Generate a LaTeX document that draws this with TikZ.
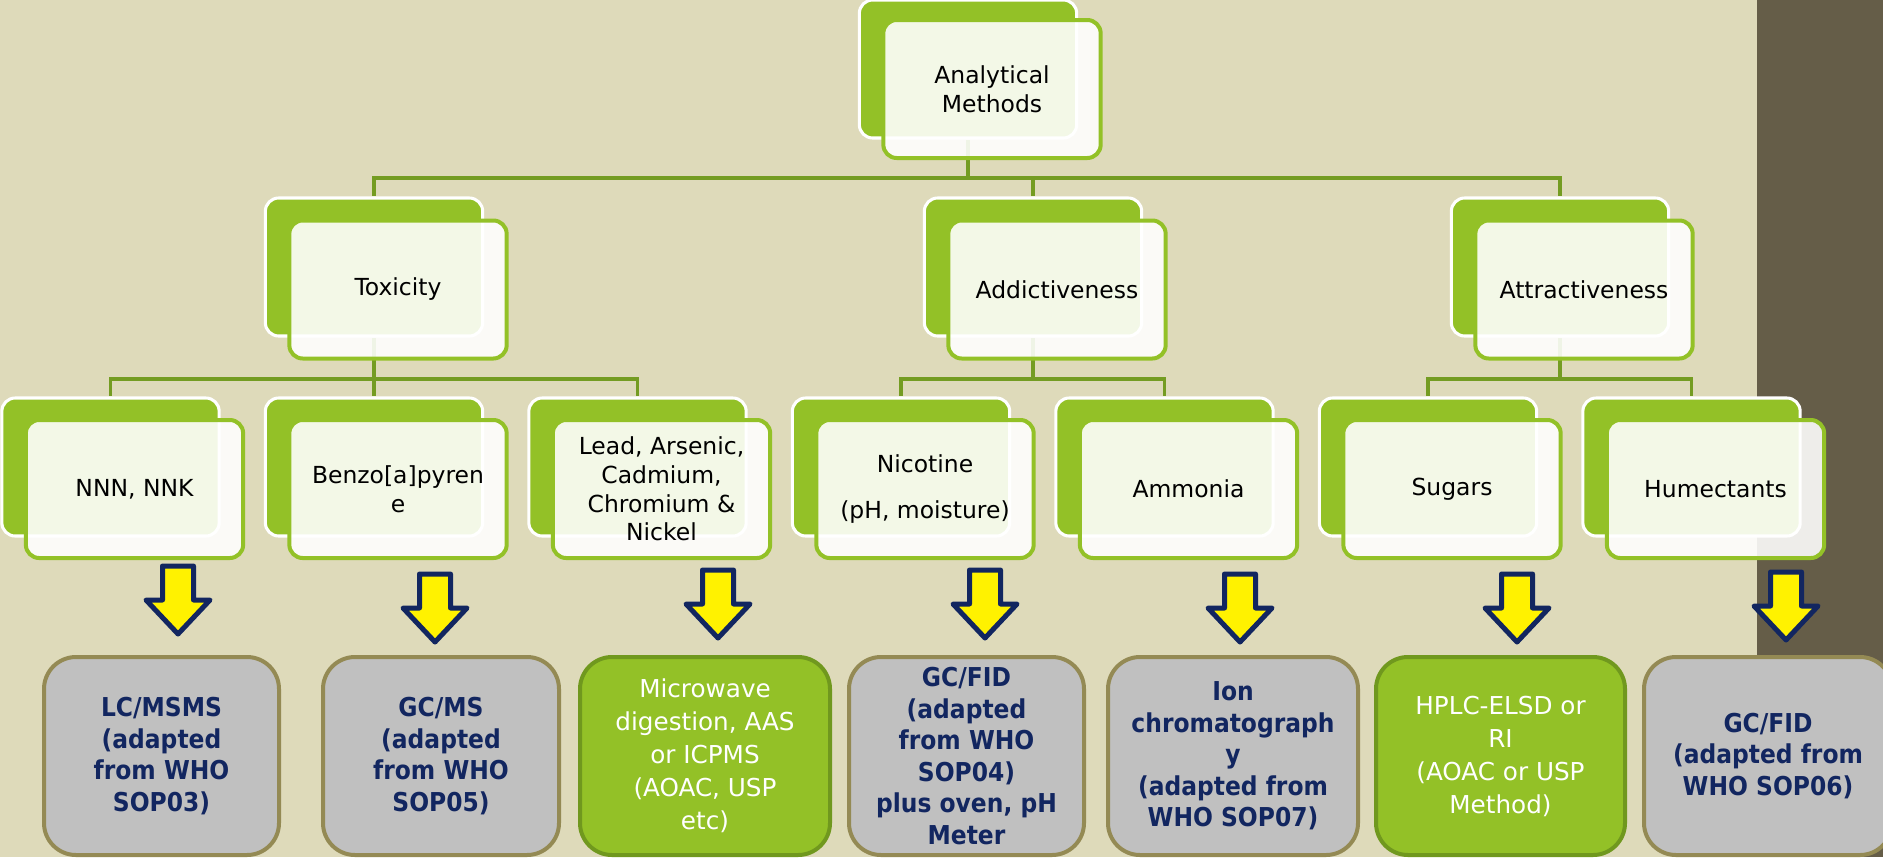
\documentclass[tikz,border=0pt]{standalone}
\usepackage{fontspec}
\setmainfont{DejaVu Sans}
\newfontfamily\condfont{DejaVu Sans}[FakeStretch=0.9]
\definecolor{paper}{RGB}{222,218,186}
\definecolor{strip}{RGB}{101,93,72}
\definecolor{leaf}{RGB}{147,193,39}
\definecolor{leafdark}{RGB}{112,152,30}
\definecolor{wire}{RGB}{116,156,34}
\definecolor{navy}{RGB}{18,38,96}
\definecolor{greybox}{RGB}{192,192,192}
\definecolor{olive}{RGB}{148,138,84}
\pgfdeclarelayer{under}
\pgfsetlayers{under,main}
\begin{document}
\begin{tikzpicture}[x=0.75pt,y=-0.75pt,
  backcard/.style={draw=white, line width=2.3pt, fill=leaf, rounded corners=10pt,
    minimum width=163pt, minimum height=103.5pt, inner sep=0pt},
  frontcard/.style={draw=leaf, line width=3pt, fill=white, fill opacity=0.89, text opacity=1,
    rounded corners=10pt, minimum width=163pt, minimum height=103.5pt, inner sep=0pt,
    align=center, text=black, font=\fontsize{17.6pt}{21.4pt}\selectfont},
  wireline/.style={draw=wire, line width=2.8pt},
  method/.style={rounded corners=24pt, line width=3pt, minimum height=148.5pt,
    inner sep=0pt, align=center},
  greymethod/.style={method, draw=olive, fill=greybox, text=navy,
    font=\condfont\bfseries\fontsize{19.5pt}{23.6pt}\selectfont},
  greenmethod/.style={method, draw=leafdark, fill=leaf, text=white,
    font=\fontsize{18.5pt}{24.75pt}\selectfont},
  arrowline/.style={draw=navy, line width=3.75pt, fill=yellow, line join=round},
  pics/blockdown/.style={code={
    \draw[arrowline] (-15.5,0) -- (15.5,0) -- (15.5,34) -- (32,34) -- (0,68)
      -- (-32,34) -- (-15.5,34) -- cycle;}},
]
% page background and dark side band
\begin{pgfonlayer}{under}
  \fill[paper] (0,0) rectangle (1883,857);
  \fill[strip] (1757,0) rectangle (1883,857);
\end{pgfonlayer}
\useasboundingbox (0,0) rectangle (1883,857);

% root
\node[backcard] (topb) at (968,69) {};
\node[frontcard] (top) at (992,89) {Analytical\\Methods};

% categories
\node[backcard] (toxb) at (374,267) {};
\node[frontcard] (tox) at (398,289.5) {Toxicity};
\node[backcard] (addb) at (1033,267) {};
\node[frontcard] (add) at (1057,289.5) {Addictiveness};
\node[backcard] (attb) at (1560,267) {};
\node[frontcard] (att) at (1584,289.5) {Attractiveness};

% analytes
\node[backcard] (nnnb) at (110.5,467) {};
\node[frontcard] (nnn) at (134.5,489) {NNN, NNK};
\node[backcard] (benzob) at (374,467) {};
\node[frontcard] (benzo) at (398,489) {Benzo[a]pyren\\e};
\node[backcard] (leadb) at (637.5,467) {};
\node[frontcard] (lead) at (661.5,489) {Lead, Arsenic,\\Cadmium,\\Chromium \&\\Nickel};
\node[backcard] (nicb) at (901,467) {};
\node[frontcard] (nic) at (925,489) {Nicotine\\[13pt](pH, moisture)};
\node[backcard] (ammb) at (1164.5,467) {};
\node[frontcard] (amm) at (1188.5,489) {Ammonia};
\node[backcard] (sugb) at (1428,467) {};
\node[frontcard] (sug) at (1452,489) {Sugars};
\node[backcard] (humb) at (1691.5,467) {};
\node[frontcard] (hum) at (1715.5,489) {Humectants};

% tree connectors, kept behind the cards
\begin{pgfonlayer}{under}
  \coordinate (j1) at (968,178);
  \draw[wireline] (topb.south) -- (j1) -| (toxb.north);
  \draw[wireline] (j1) -| (attb.north);
  \draw[wireline] (addb.north) -- (addb.north |- j1);
  \coordinate (j2) at (374,379);
  \draw[wireline] (toxb.south) -- (j2) -| (nnnb.north);
  \draw[wireline] (j2) -| (leadb.north);
  \draw[wireline] (j2) -- (benzob.north);
  \coordinate (j3) at (1033,379);
  \draw[wireline] (addb.south) -- (j3) -| (nicb.north);
  \draw[wireline] (j3) -| (ammb.north);
  \coordinate (j4) at (1560,379);
  \draw[wireline] (attb.south) -- (j4) -| (sugb.north);
  \draw[wireline] (j4) -| (humb.north);
\end{pgfonlayer}

% methods
\node[greymethod, minimum width=176.25pt] (m1) at (161.5,756) {LC/MSMS\\(adapted\\from WHO\\SOP03)};
\node[greymethod, minimum width=177pt] (m2) at (441,756) {GC/MS\\(adapted\\from WHO\\SOP05)};
\node[greenmethod, minimum width=187.5pt] (m3) at (705,756) {Microwave\\digestion, AAS\\or ICPMS\\(AOAC, USP\\etc)};
\node[greymethod, minimum width=176.25pt] (m4) at (966.5,756) {GC/FID\\(adapted\\from WHO\\SOP04)\\plus oven, pH\\Meter};
\node[greymethod, minimum width=187.5pt] (m5) at (1233,756) {Ion\\chromatograph\\y\\(adapted from\\WHO SOP07)};
\node[greenmethod, minimum width=186.75pt] (m6) at (1500.5,756) {HPLC-ELSD or\\RI\\(AOAC or USP\\Method)};
\node[greymethod, minimum width=186pt] (m7) at (1768,756) {GC/FID\\(adapted from\\WHO SOP06)};

% block arrows
\pic at (178,566) {blockdown};
\pic at (435,574) {blockdown};
\pic at (718,570) {blockdown};
\pic at (985,570) {blockdown};
\pic at (1240,574) {blockdown};
\pic at (1517,574) {blockdown};
\pic at (1786,572) {blockdown};
\end{tikzpicture}
\end{document}
